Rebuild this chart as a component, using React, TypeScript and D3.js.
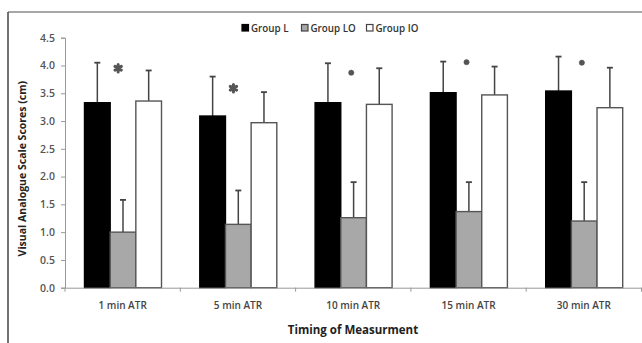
import React, { useEffect, useRef } from 'react';
import * as d3 from 'd3';

const categories = ['1 min ATR', '5 min ATR', '10 min ATR', '15 min ATR', '30 min ATR'];
const groups = ['Group L', 'Group LO', 'Group IO'];
const groupL = [3.33, 3.09, 3.33, 3.51, 3.54];
const groupLO = [1.0, 1.14, 1.26, 1.37, 1.2];
const groupIO = [3.36, 2.97, 3.3, 3.47, 3.24];
const errL = [4.05, 3.8, 4.04, 4.07, 4.16];
const errLO = [1.58, 1.75, 1.9, 1.9, 1.9];
const errIO = [3.91, 3.52, 3.95, 3.98, 3.96];
const sigMarks = ['asterisk', 'asterisk', 'dot', 'dot', 'dot'];
const sigLevels = [3.95, 3.59, 3.87, 4.06, 4.05];
const yTicks = [0, 0.5, 1, 1.5, 2, 2.5, 3, 3.5, 4, 4.5];

const fills = ['#000000', '#a8a8a8', '#ffffff'];
const font = '"Open Sans", "Liberation Sans", sans-serif';

const App = () => {
  const svgRef = useRef(null);

  useEffect(() => {
    const svg = d3.select(svgRef.current);
    svg.selectAll('*').remove();

    const margin = { top: 37.7, left: 65, bottom: 287.7, right: 641.5 };

    const x0 = d3.scaleBand().domain(categories).range([margin.left, margin.right]);
    const x1 = d3.scaleBand().domain(groups).range([19.5, 96.5]);
    const y = d3.scaleLinear().domain([0, 4.5]).range([margin.bottom, margin.top]);

    const values = [groupL, groupLO, groupIO];
    const errs = [errL, errLO, errIO];

    // frame
    svg.append('line')
      .attr('x1', 8).attr('x2', 642).attr('y1', 12).attr('y2', 12)
      .attr('stroke', '#8a8a8a').attr('stroke-width', 1.5);
    svg.append('line')
      .attr('x1', 8).attr('x2', 8).attr('y1', 12).attr('y2', 343)
      .attr('stroke', '#444').attr('stroke-width', 1.5);

    // y axis
    const yAxis = svg.append('g')
      .attr('transform', `translate(${margin.left},0)`)
      .call(d3.axisLeft(y).tickValues(yTicks).tickFormat(d3.format('.1f')).tickSize(4).tickPadding(6));
    yAxis.select('.domain').attr('stroke', '#999');
    yAxis.selectAll('.tick line').attr('stroke', '#999');
    yAxis.selectAll('text')
      .attr('fill', '#555').attr('font-family', font).attr('font-size', 10.5).attr('font-weight', 600);

    // bars
    categories.forEach((c, i) => {
      const g = svg.append('g').attr('transform', `translate(${x0(c)},0)`);
      groups.forEach((grp, j) => {
        const v = values[j][i];
        const bx = x1(grp);
        const bw = x1.bandwidth();
        const e = errs[j][i];
        const cx = bx + bw / 2;
        g.append('line')
          .attr('x1', cx).attr('x2', cx).attr('y1', y(v)).attr('y2', y(e))
          .attr('stroke', '#444').attr('stroke-width', 1.5);
        g.append('line')
          .attr('x1', cx - 3).attr('x2', cx + 3).attr('y1', y(e)).attr('y2', y(e))
          .attr('stroke', '#444').attr('stroke-width', 1.8);
        g.append('rect')
          .attr('x', bx).attr('y', y(v))
          .attr('width', bw).attr('height', y(0) - y(v))
          .attr('fill', fills[j])
          .attr('stroke', j === 0 ? '#000' : '#555')
          .attr('stroke-width', 1.4);
      });

      const isStar = sigMarks[i] === 'asterisk';
      const sx = x0(c) + x0.bandwidth() / 2 - (isStar ? 4.5 : 2);
      const sym = d3.symbol()
        .type(isStar ? d3.symbolAsterisk : d3.symbolCircle)
        .size(isStar ? 38 : 22);
      svg.append('path')
        .attr('d', sym())
        .attr('transform', `translate(${sx},${y(sigLevels[i])})`)
        .attr('fill', '#555')
        .attr('stroke', '#555')
        .attr('stroke-linecap', 'round')
        .attr('stroke-width', isStar ? 3 : 0.5);
    });

    // x axis
    const xAxis = svg.append('g')
      .attr('transform', `translate(0,${margin.bottom})`)
      .call(d3.axisBottom(x0).tickSize(0).tickPadding(14));
    xAxis.select('.domain').attr('stroke', '#999');
    xAxis.selectAll('text')
      .attr('fill', '#444').attr('font-family', font).attr('font-size', 10).attr('font-weight', 600);
    const bounds = categories.map(c => x0(c)).concat([margin.right]);
    xAxis.selectAll('.sep')
      .data(bounds)
      .enter().append('line')
      .attr('class', 'sep')
      .attr('x1', d => d).attr('x2', d => d)
      .attr('y1', 0).attr('y2', 4)
      .attr('stroke', '#999');

    // titles
    svg.append('text')
      .attr('transform', `translate(26,${(margin.top + margin.bottom) / 2 + 6}) rotate(-90)`)
      .attr('text-anchor', 'middle')
      .attr('font-family', font).attr('font-size', 10.5).attr('font-weight', 700)
      .attr('fill', '#222')
      .text('Visual Analogue Scale Scores (cm)');
    svg.append('text')
      .attr('x', 353).attr('y', 334)
      .attr('text-anchor', 'middle')
      .attr('font-family', font).attr('font-size', 11.5).attr('font-weight', 700)
      .attr('fill', '#222')
      .text('Timing of Measurment');

    // legend
    const legendX = [241.5, 301, 366];
    groups.forEach((grp, j) => {
      const lg = svg.append('g').attr('transform', `translate(${legendX[j]},24)`);
      lg.append('rect')
        .attr('x', 0.5).attr('y', 0.5).attr('width', 6.5).attr('height', 6.5)
        .attr('fill', fills[j]).attr('stroke', j === 0 ? '#000' : '#444').attr('stroke-width', 1.2);
      lg.append('text')
        .attr('x', 9.5).attr('y', 7.8)
        .attr('font-family', font).attr('font-size', 9.8).attr('font-weight', 600)
        .attr('fill', '#333')
        .text(grp);
    });
  }, []);

  return (
    <svg
      ref={svgRef}
      width={642}
      height={343}
      style={{ position: 'absolute', left: 0, top: 0, background: '#fff' }}
    />
  );
};

export default App;
